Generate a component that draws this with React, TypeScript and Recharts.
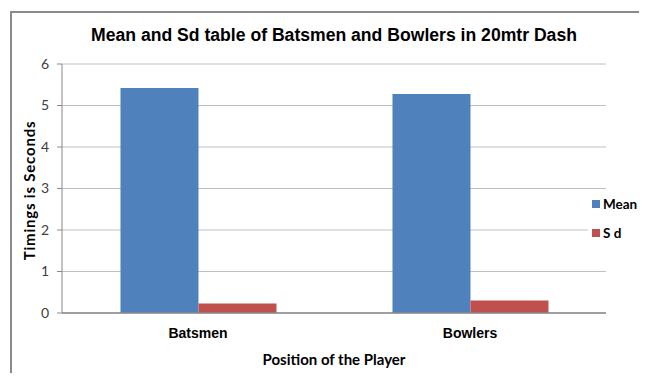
import React from 'react';
import { BarChart, Bar, XAxis, YAxis, CartesianGrid, Label } from 'recharts';

const categories = ['Batsmen', 'Bowlers'];
const meanValues = [5.42, 5.28];
const sdValues = [0.23, 0.3];
const yTicks = [0, 1, 2, 3, 4, 5, 6];
const seriesNames = ['Mean', 'S d'];
const seriesColors = ['#4F81BD', '#C0504D'];

const data = categories.map((c, i) => ({ name: c, mean: meanValues[i], sd: sdValues[i] }));

const W = 639;
const H = 365;

const YLabel = (props: any) => {
  const vb = props.viewBox || { x: 0, y: 0, width: 0, height: 0 };
  const cx = vb.x + 21;
  const cy = vb.y + vb.height / 2 + 2;
  return (
    <text
      x={cx}
      y={cy}
      transform={`rotate(-90, ${cx}, ${cy})`}
      textAnchor="middle"
      dominantBaseline="central"
      style={{ fontFamily: 'Lato', fontWeight: 700, fontSize: 15, letterSpacing: 0.8, fill: '#000' }}
    >
      Timings is Seconds
    </text>
  );
};

export default function App() {
  return (
    <div style={{ position: 'relative', width: W, height: H, overflow: 'hidden', background: '#fff' }}>
      <style>{`html, body { overflow: hidden; }`}</style>
      <div
        style={{
          position: 'absolute',
          left: 2,
          top: 3,
          width: 637,
          height: 2,
          background: '#8a8a8a',
        }}
      />
      <div
        style={{
          position: 'absolute',
          left: 2,
          top: 3,
          width: 2,
          height: 362,
          background: '#8a8a8a',
        }}
      />
      <div
        style={{
          position: 'absolute',
          left: 0,
          width: 652,
          top: 16,
          textAlign: 'center',
          fontFamily: 'Liberation Sans, Arial, sans-serif',
          fontWeight: 700,
          fontSize: 17.6,
          color: '#000',
          lineHeight: '22px',
          whiteSpace: 'nowrap',
        }}
      >
        Mean and Sd table of Batsmen and Bowlers in 20mtr Dash
      </div>
      <div style={{ position: 'absolute', left: 0, top: 0 }}>
        <BarChart
          width={W}
          height={H}
          data={data}
          margin={{ top: 56, right: 41, bottom: 30, left: 0 }}
          barCategoryGap="21.5%"
          barGap={0}
        >
          <CartesianGrid vertical={false} stroke="#c0c0c0" strokeWidth={1} />
          <XAxis
            dataKey="name"
            height={30}
            axisLine={{ stroke: '#8a8a8a', strokeWidth: 1.5 }}
            tickLine={false}
            tickMargin={9}
            tick={{ fontFamily: 'Liberation Sans, Arial', fontWeight: 700, fontSize: 14, fill: '#000' }}
          >
            <Label
              value="Position of the Player"
              position="bottom"
              offset={11}
              style={{ fontFamily: 'Lato', fontWeight: 700, fontSize: 15, fill: '#000' }}
            />
          </XAxis>
          <YAxis
            width={54}
            domain={[0, 6]}
            ticks={yTicks}
            interval={0}
            axisLine={{ stroke: '#8a8a8a', strokeWidth: 1 }}
            tickLine={{ stroke: '#8a8a8a' }}
            tickSize={5}
            tickMargin={8}
            tick={{ fontFamily: 'Lato', fontSize: 14, fill: '#404040' }}
          >
            <Label content={<YLabel />} />
          </YAxis>
          <Bar dataKey="mean" name={seriesNames[0]} fill={seriesColors[0]} isAnimationActive={false} />
          <Bar dataKey="sd" name={seriesNames[1]} fill={seriesColors[1]} isAnimationActive={false} />
        </BarChart>
      </div>
      <div
        style={{
          position: 'absolute',
          left: 580,
          top: 185,
          width: 59,
          height: 58,
          background: '#fff',
          fontFamily: 'Lato',
          fontWeight: 700,
          fontSize: 13.5,
          color: '#000',
        }}
      >
        {seriesNames.map((n, i) => (
          <div
            key={n}
            style={{ position: 'absolute', left: 4, top: 3 + i * 29, display: 'flex', alignItems: 'center', height: 16 }}
          >
            <span style={{ display: 'inline-block', width: 8, height: 8, background: seriesColors[i], marginRight: 3 }} />
            <span>{n}</span>
          </div>
        ))}
      </div>
    </div>
  );
}
